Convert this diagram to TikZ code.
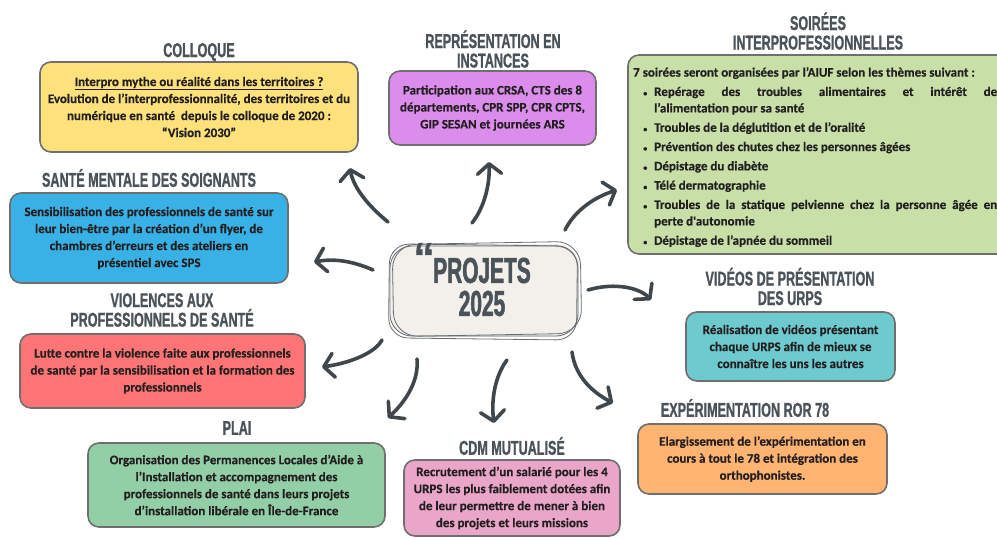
\documentclass[tikz,border=0pt]{standalone}
\usepackage{fontspec}
\usetikzlibrary{arrows.meta}
\newfontfamily\bodyfont[BoldFeatures={FakeBold=0.4}]{Carlito}
\newfontfamily\headfont[FakeStretch=0.63,FakeBold=1]{Liberation Sans Bold}
\newfontfamily\bigfont[FakeStretch=0.58,FakeBold=1.5]{Liberation Sans Bold}
\newfontfamily\quotefont[FakeBold=1]{Liberation Sans Bold}
\definecolor{headgray}{HTML}{4B535A}
\definecolor{textdark}{HTML}{231F20}
\definecolor{bordergray}{HTML}{6F6F6F}
\definecolor{arrowgray}{HTML}{3F474D}
\definecolor{cyellow}{HTML}{FDE27C}
\definecolor{cpurple}{HTML}{DA8DEB}
\definecolor{cgreen}{HTML}{C8DFA8}
\definecolor{cblue}{HTML}{37B1E6}
\definecolor{cred}{HTML}{FF7474}
\definecolor{cmint}{HTML}{93CFA6}
\definecolor{cpink}{HTML}{E9A6C8}
\definecolor{corange}{HTML}{FFB472}
\definecolor{cteal}{HTML}{6DCBD0}
\definecolor{cbeige}{HTML}{F3F0EB}
\newcommand\itm{\vspace{2.8pt}\noindent\llap{\scalebox{0.6}{\textbullet}\hspace{7pt}}}
\tikzset{
  box/.style={draw=bordergray, line width=1.6pt, rounded corners=11pt, align=center,
    font=\bodyfont\bfseries\fontsize{13}{17}\selectfont, text=textdark, inner sep=0pt},
  head/.style={font=\headfont\fontsize{20}{19.5}\selectfont, text=headgray, align=center, inner sep=0pt},
  sketchline/.style={draw=headgray!85, line width=0.8pt},
  arr/.style={draw=arrowgray, line width=3.6pt, line cap=round,
    -{Straight Barb[length=10pt,width=24pt,round]}}
}
\begin{document}
\begin{tikzpicture}[x=1pt,y=-1pt]
\useasboundingbox (0,0) rectangle (997,538);
\clip (0,0) rectangle (997,538);

% ---- COLLOQUE
\node[head] (hcolloque) at (199,52) {COLLOQUE};
\node[box, fill=cyellow, minimum width=318pt, minimum height=90pt] (colloque) at (199,107)
 {\underline{Interpro mythe ou réalité dans les territoires ?}\\
  Evolution de l’interprofessionnalité, des territoires et du\\
  numérique en santé\ \ depuis le colloque de 2020 :\\
  “Vision 2030”};

% ---- REPRESENTATION
\node[head] (hrepr) at (493,49) {REPRÉSENTATION EN\\INSTANCES};
\node[box, fill=cpurple, minimum width=207pt, minimum height=74pt] (repr) at (492.5,108)
 {Participation aux CRSA, CTS des 8\\ départements, CPR SPP, CPR CPTS,\\ GIP SESAN et journées ARS};

% ---- SOIREES
\node[head] (hsoir) at (818,31) {SOIRÉES\\INTERPROFESSIONNELLES};
\node[box, fill=cgreen, minimum width=382pt, minimum height=199pt] (soir) at (819,154.5) {};
\node[anchor=north west, text width=364pt, align=justify, inner sep=0pt,
  font=\bodyfont\bfseries\fontsize{13}{16.5}\selectfont, text=textdark] (soirtext) at (633,67)
 {\hyphenpenalty=10000
  7 soirées seront organisées par l’AIUF selon les thèmes suivant :\par
  \leftskip=21pt
  \itm Repérage des troubles alimentaires et intérêt de\linebreak l’alimentation pour sa santé\par
  \itm Troubles de la déglutition et de l’oralité\par
  \itm Prévention des chutes chez les personnes âgées\par
  \itm Dépistage du diabète\par
  \itm Télé dermatographie\par
  \itm Troubles de la statique pelvienne chez la personne âgée en\linebreak perte d'autonomie\par
  \itm Dépistage de l’apnée du sommeil\par};

% ---- SANTE MENTALE
\node[head] (hsante) at (149,178) {SANTÉ MENTALE DES SOIGNANTS};
\node[box, fill=cblue, minimum width=278pt, minimum height=90pt] (sante) at (149,238)
 {Sensibilisation des professionnels de santé sur\\ leur bien-être par la création d’un flyer, de\\ chambres d’erreurs et des ateliers en\\ présentiel avec SPS};

% ---- VIOLENCES
\node[head] (hviol) at (162,310) {VIOLENCES AUX\\PROFESSIONNELS DE SANTÉ};
\node[box, fill=cred, minimum width=285pt, minimum height=74pt] (viol) at (162.5,371)
 {Lutte contre la violence faite aux professionnels\\ de santé par la sensibilisation et la formation des\\ professionnels};

% ---- PLAI
\node[head] (hplai) at (237,428) {PLAI};
\node[box, fill=cmint, minimum width=297pt, minimum height=84pt] (plai) at (236.5,485)
 {Organisation des Permanences Locales d’Aide à\\ l’Installation et accompagnement des\\ professionnels de santé dans leurs projets\\ d’installation libérale en Île-de-France};

% ---- CDM
\node[head] (hcdm) at (512,446) {CDM MUTUALISÉ};
\node[box, fill=cpink, minimum width=216pt, minimum height=76pt] (cdm) at (512,498)
 {Recrutement d’un salarié pour les 4\\ URPS les plus faiblement dotées afin\\ de leur permettre de mener à bien\\ des projets et leurs missions};

% ---- ROR
\node[head] (hror) at (745,408) {EXPÉRIMENTATION ROR 78};
\node[box, fill=corange, minimum width=249pt, minimum height=70pt] (ror) at (762.5,459)
 {Elargissement de l’expérimentation en\\ cours à tout le 78 et intégration des\\ orthophonistes.};

% ---- VIDEOS
\node[head] (hvid) at (790,286.5) {VIDÉOS DE PRÉSENTATION\\DES URPS};
\node[box, fill=cteal, minimum width=209pt, minimum height=69pt] (vid) at (790.5,346.5)
 {Réalisation de vidéos présentant\\ chaque URPS afin de mieux se\\ connaître les uns les autres};

% ---- CENTRE
\fill[cbeige, rounded corners=22pt] (391,244) rectangle (579,337);
\draw[sketchline, rounded corners=22pt] (390,246) rectangle (578,336);
\draw[sketchline, rounded corners=24pt, rotate around={1.0:(485,290)}] (393,243) rectangle (581,335);
\draw[sketchline, rounded corners=20pt, rotate around={-0.7:(485,290)}] (389,245) rectangle (577,339);
\node[font=\quotefont\fontsize{42}{42}\selectfont, text=headgray, inner sep=0pt, anchor=base] (quote) at (424,272) {“};
\node[font=\bigfont\fontsize{36}{33}\selectfont, text=headgray, align=center, inner sep=0pt] (centre) at (482,287) {PROJETS\\2025};

% ---- ARROWS
\coordinate (a1s) at (388,222); \coordinate (a1e) at (350,168);
\coordinate (a2s) at (472,223); \coordinate (a2e) at (489,162);
\coordinate (a3s) at (565,230); \coordinate (a3e) at (617,190);
\coordinate (a4s) at (588,290); \coordinate (a4e) at (651,300);
\coordinate (a5s) at (373,270); \coordinate (a5e) at (314,262);
\coordinate (a6s) at (382,340); \coordinate (a6e) at (322,367);
\coordinate (a7s) at (417,359); \coordinate (a7e) at (388,418);
\coordinate (a8s) at (507,360); \coordinate (a8e) at (494,423);
\coordinate (a9s) at (572,352); \coordinate (a9e) at (613,403);
\draw[arr] (a1s) .. controls (366,204) and (353,186) .. (a1e);
\draw[arr] (a2s) .. controls (484,208) and (490,185) .. (a2e);
\draw[arr] (a3s) .. controls (575,210) and (595,197) .. (a3e);
\draw[arr] (a4s) .. controls (615,282) and (640,288) .. (a4e);
\draw[arr] (a5s) .. controls (355,262) and (336,258) .. (a5e);
\draw[arr] (a6s) .. controls (375,353) and (350,363) .. (a6e);
\draw[arr] (a7s) .. controls (419,381) and (406,401) .. (a7e);
\draw[arr] (a8s) .. controls (495,376) and (491,400) .. (a8e);
\draw[arr] (a9s) .. controls (575,376) and (592,392) .. (a9e);
\end{tikzpicture}
\end{document}
